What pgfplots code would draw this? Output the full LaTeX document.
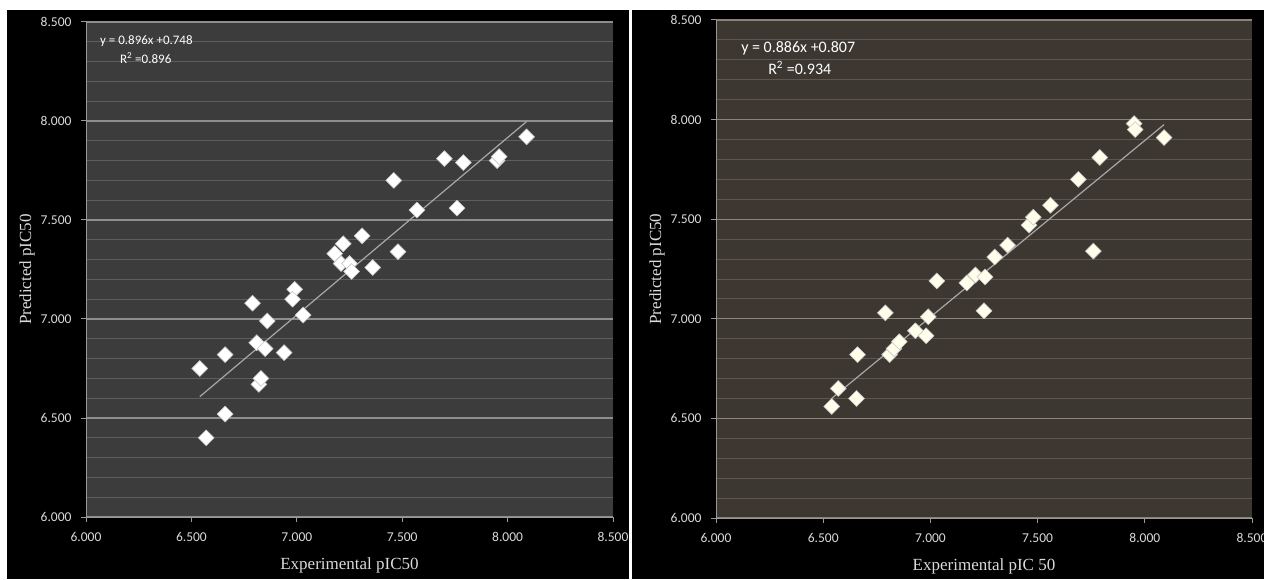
\documentclass[border=0pt]{standalone}
\usepackage{pgfplots}
\pgfplotsset{compat=1.18}
\usepackage{pgfplotstable}
\usepackage{fontspec}
\setmainfont{Liberation Serif}
\newfontfamily\calibri{Carlito}
\definecolor{plotL}{HTML}{3C3C3C}
\definecolor{plotR}{HTML}{3D3731}
\definecolor{gridLmaj}{HTML}{8E8E8E}
\definecolor{gridLmin}{HTML}{5E5E5E}
\definecolor{gridRmaj}{HTML}{8C8376}
\definecolor{gridRmin}{HTML}{5F574E}
\definecolor{txt}{HTML}{DADADA}
\definecolor{fitline}{HTML}{A8A8A8}

\pgfplotstableread{
x y
6.54 6.75
6.57 6.40
6.66 6.52
6.66 6.82
6.79 7.08
6.81 6.88
6.85 6.85
6.82 6.67
6.83 6.70
6.86 6.99
6.94 6.83
6.99 7.15
6.98 7.10
7.03 7.02
7.18 7.33
7.22 7.38
7.21 7.28
7.25 7.28
7.26 7.24
7.31 7.42
7.36 7.26
7.48 7.34
7.46 7.70
7.57 7.55
7.70 7.81
7.79 7.79
7.76 7.56
7.95 7.80
7.96 7.82
8.09 7.92
}\leftdata

\pgfplotstableread{
x y
6.54 6.56
6.57 6.65
6.655 6.60
6.66 6.82
6.79 7.03
6.81 6.82
6.83 6.85
6.855 6.885
6.93 6.94
6.98 6.915
6.99 7.01
7.03 7.19
7.17 7.18
7.21 7.22
7.255 7.21
7.25 7.04
7.30 7.31
7.36 7.37
7.46 7.47
7.48 7.51
7.56 7.57
7.69 7.70
7.79 7.81
7.76 7.34
7.95 7.98
7.955 7.95
8.09 7.91
}\rightdata

\pgfplotsset{
  panel/.style={
    scale only axis, anchor=south west,
    xmin=6, xmax=8.5, ymin=6, ymax=8.5,
    xtick={6,6.5,...,8.5}, ytick={6,6.5,...,8.5},
    minor y tick num=4,
    ymajorgrids, yminorgrids,
    axis x line*=bottom, axis y line*=left,
    axis line style={color=gray!80, line width=1pt},
    tick align=outside, major tick length=5pt, minor tick length=0pt,
    tick style={color=gray!80, line width=1pt},
    ticklabel style={font=\calibri\fontsize{13.5}{15}\selectfont, text=txt},
    xticklabel style={yshift=-7pt},
    yticklabel style={xshift=-6pt},
    /pgf/number format/fixed, /pgf/number format/fixed zerofill,
    /pgf/number format/precision=3, /pgf/number format/assume math mode=true,
    label style={font=\fontsize{17}{20}\selectfont, text=txt},
    xlabel style={at={(axis description cs:0.5,-0.097)}, anchor=center},
    ylabel style={at={(axis description cs:-0.112,0.5)}, anchor=center},
    clip=false,
  },
  dia/.style={only marks, mark=square*, mark size=5.6pt,
    mark options={rotate=45, fill=#1, draw=gray!45, line width=0.6pt}},
  dia/.default=white,
}

\begin{document}
\begin{tikzpicture}
\fill[white] (0pt,0pt) rectangle (1264pt,579pt);
\fill[black] (7pt,0pt) rectangle (629pt,569pt);
\fill[black] (632pt,0pt) rectangle (1264pt,569pt);

\begin{axis}[panel, at={(86pt,62pt)}, width=527pt, height=495pt,
  axis background/.style={fill=plotL},
  major grid style={color=gridLmaj, line width=1.1pt},
  minor grid style={color=gridLmin, line width=0.9pt},
  xlabel={Experimental pIC50}, ylabel={Predicted pIC50}]
\addplot[no marks, color=fitline, line width=1.2pt] coordinates {(6.54,6.608) (8.09,7.997)};
\addplot[dia] table[x=x,y=y] {\leftdata};
\node[anchor=west, text=white, font=\calibri\fontsize{13}{15}\selectfont, inner sep=0pt] at (axis cs:6.066,8.404) {y = 0.896x +0.748};
\node[anchor=west, text=white, font=\calibri\fontsize{13}{15}\selectfont, inner sep=0pt] at (axis cs:6.161,8.318) {R\textsuperscript{2} =0.896};
\end{axis}

\begin{axis}[panel, at={(716pt,61pt)}, width=536pt, height=498pt,
  axis background/.style={fill=plotR},
  major grid style={color=gridRmaj, line width=1.1pt},
  minor grid style={color=gridRmin, line width=0.9pt},
  xlabel style={at={(axis description cs:0.5,-0.098)}},
  ylabel style={at={(axis description cs:-0.110,0.5)}},
  xlabel={Experimental pIC 50}, ylabel={Predicted pIC50}]
\addplot[no marks, color=fitline, line width=1.2pt] coordinates {(6.54,6.601) (8.09,7.975)};
\addplot[dia=white!92!yellow] table[x=x,y=y] {\rightdata};
\node[anchor=west, text=white, font=\calibri\fontsize{16}{18}\selectfont, inner sep=0pt] at (axis cs:6.117,8.359) {y = 0.886x +0.807};
\node[anchor=west, text=white, font=\calibri\fontsize{16}{18}\selectfont, inner sep=0pt] at (axis cs:6.243,8.259) {R\textsuperscript{2} =0.934};
\end{axis}
\pgfresetboundingbox
\useasboundingbox (0pt,0pt) rectangle (1264pt,579pt);
\end{tikzpicture}
\end{document}
